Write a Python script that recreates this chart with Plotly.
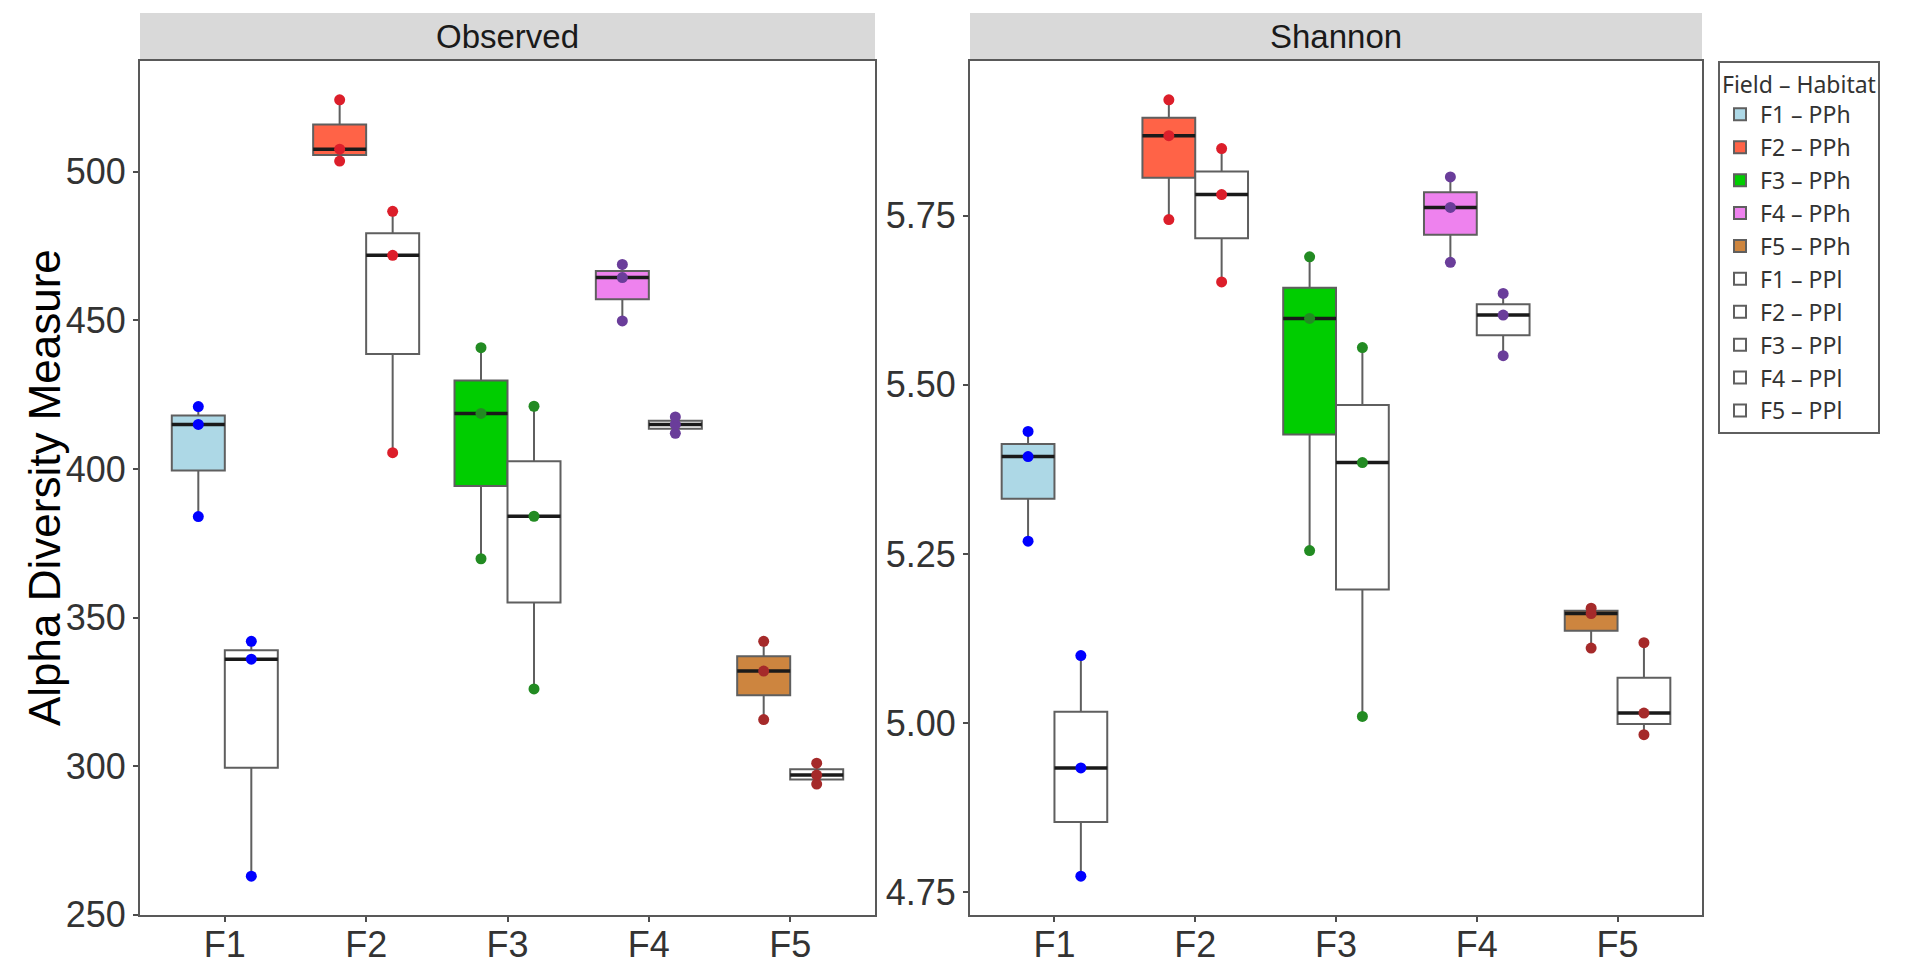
import numpy as np
import plotly.graph_objects as go

# ---------------- data ----------------
categories = ["F1", "F2", "F3", "F4", "F5"]
habitats = ["PPh", "PPl"]
metrics = ["Observed", "Shannon"]

observed_pph = [[384, 415, 421], [503.6, 507.6, 524.2], [369.8, 418.7, 440.8],
                [449.8, 464.4, 468.8], [315.7, 332, 342]]
observed_ppl = [[263, 336, 342], [405.5, 471.9, 486.7], [326, 384.1, 421.1],
                [412, 415, 417.5], [294, 297, 301]]
shannon_pph = [[5.269, 5.394, 5.431], [5.744, 5.868, 5.921], [5.255, 5.598, 5.689],
               [5.681, 5.762, 5.807], [5.111, 5.162, 5.170]]
shannon_ppl = [[4.774, 4.934, 5.100], [5.652, 5.781, 5.849], [5.010, 5.385, 5.555],
               [5.543, 5.603, 5.635], [4.983, 5.015, 5.119]]

y_title = "Alpha Diversity Measure"
legend_title = "Field – Habitat"

# ---------------- styles ----------------
fill_colors = {
    "PPh": ["#ADD8E6", "#FF6347", "#00CD00", "#EE82EE", "#CD853F"],
    "PPl": ["#FFFFFF"] * 5,
}
point_colors = ["#0000FF", "#DC1E2A", "#228B22", "#6A3D9A", "#A52A2A"]
box_line = "#5f5f5f"

data = {
    "Observed": {"PPh": observed_pph, "PPl": observed_ppl},
    "Shannon": {"PPh": shannon_pph, "PPl": shannon_ppl},
}

W, H = 1910, 969
ml, mr, mt, mb = 140, 208, 61, 54
pw = W - ml - mr
ph = H - mt - mb
domains = [[0, (875 - ml) / pw], [(970 - ml) / pw, 1.0]]

dodge = 0.75
bw = dodge / 2
offsets = {"PPh": -bw / 2, "PPl": bw / 2}
axes = [("x", "y"), ("x2", "y2")]

fig = go.Figure()

# boxes (legend traces); quartiles as in R (type 7)
for hab in habitats:
    for i, cat in enumerate(categories):
        for m_idx, metric in enumerate(metrics):
            vals = np.array(data[metric][hab][i], dtype=float)
            xpos = i + 1 + offsets[hab]
            xa, ya = axes[m_idx]
            q1, med, q3 = np.percentile(vals, [25, 50, 75])
            iqr = q3 - q1
            lo = vals[vals >= q1 - 1.5 * iqr].min()
            hi = vals[vals <= q3 + 1.5 * iqr].max()
            fig.add_trace(go.Box(
                x=[xpos], q1=[q1], median=[med], q3=[q3],
                lowerfence=[lo], upperfence=[hi], width=bw,
                name=f"{cat} – {hab}", legendgroup=f"{cat}-{hab}",
                showlegend=(m_idx == 0),
                fillcolor=fill_colors[hab][i],
                line=dict(color=box_line, width=2),
                marker=dict(color=point_colors[i]),
                boxpoints=False, whiskerwidth=0,
                xaxis=xa, yaxis=ya, hoverinfo="y",
            ))

# median lines
for hab in habitats:
    for i, cat in enumerate(categories):
        for m_idx, metric in enumerate(metrics):
            vals = data[metric][hab][i]
            xpos = i + 1 + offsets[hab]
            med = float(np.median(vals))
            xa, ya = axes[m_idx]
            fig.add_trace(go.Scatter(
                x=[xpos - bw / 2, xpos + bw / 2], y=[med, med], mode="lines",
                line=dict(color="#1a1a1a", width=3.5), showlegend=False,
                legendgroup=f"{cat}-{hab}", hoverinfo="skip",
                xaxis=xa, yaxis=ya,
            ))

# points
for hab in habitats:
    for i, cat in enumerate(categories):
        for m_idx, metric in enumerate(metrics):
            vals = data[metric][hab][i]
            xpos = i + 1 + offsets[hab]
            xa, ya = axes[m_idx]
            fig.add_trace(go.Scatter(
                x=[xpos] * len(vals), y=vals, mode="markers",
                marker=dict(color=point_colors[i], size=11),
                showlegend=False, legendgroup=f"{cat}-{hab}",
                name=f"{cat} – {hab}",
                xaxis=xa, yaxis=ya,
            ))


def expanded(metric):
    allv = [v for hab in habitats for grp in data[metric][hab] for v in grp]
    lo, hi = min(allv), max(allv)
    span = hi - lo
    return [lo - 0.05 * span, hi + 0.05 * span]


tick_font = dict(family="Liberation Sans, Arial, sans-serif", size=36, color="#333333")
axis_common = dict(showline=True, mirror=True, linecolor="#595959", linewidth=2,
                   ticks="outside", ticklen=5, tickwidth=1.5, tickcolor="#4d4d4d",
                   showgrid=False, zeroline=False, tickfont=tick_font, automargin=False)

fig.update_layout(
    width=W, height=H,
    margin=dict(l=ml, r=mr, t=mt, b=mb, autoexpand=False),
    paper_bgcolor="white", plot_bgcolor="white",
    boxmode="overlay",
    xaxis=dict(domain=domains[0], range=[0.4, len(categories) + 0.6], tickmode="array",
               tickvals=list(range(1, len(categories) + 1)), ticktext=categories,
               anchor="y", ticklabelstandoff=-8, **axis_common),
    xaxis2=dict(domain=domains[1], range=[0.4, len(categories) + 0.6], tickmode="array",
                tickvals=list(range(1, len(categories) + 1)), ticktext=categories,
                anchor="y2", ticklabelstandoff=-8, **axis_common),
    yaxis=dict(range=expanded("Observed"), tickmode="linear", tick0=250, dtick=50,
               anchor="x", **axis_common),
    yaxis2=dict(range=expanded("Shannon"), tickmode="linear", tick0=4.75, dtick=0.25,
                tickformat=".2f", anchor="x2", **axis_common),
    legend=dict(
        x=(1718 - ml) / pw, y=1.0, xanchor="left", yanchor="top",
        bordercolor="#5f5f5f", borderwidth=2, bgcolor="white",
        font=dict(family="Noto Sans, sans-serif", size=23, color="#333333"),
        title=dict(text=legend_title,
                   font=dict(family="Noto Sans, sans-serif", size=23, color="#333333")),
        traceorder="normal", itemsizing="constant",
    ),
    showlegend=True,
)

strip_h = 48 / ph
for m_idx, metric in enumerate(metrics):
    d = domains[m_idx]
    fig.add_shape(type="rect", xref="paper", yref="paper",
                  x0=d[0], x1=d[1], y0=1.0 + 1 / ph, y1=1.0 + strip_h,
                  fillcolor="#D9D9D9", line=dict(width=0), layer="below")
    fig.add_annotation(x=(d[0] + d[1]) / 2, y=1.0 + strip_h / 2, xref="paper", yref="paper",
                       text=metric, showarrow=False, xanchor="center", yanchor="middle",
                       font=dict(family="Liberation Sans, Arial, sans-serif", size=33,
                                 color="#1a1a1a"))

fig.add_annotation(x=0, y=0.5, xref="paper", yref="paper", xshift=-96,
                   text=y_title, textangle=-90, showarrow=False,
                   xanchor="center", yanchor="middle",
                   font=dict(family="Liberation Sans, Arial, sans-serif", size=44, color="#000000"))

fig.write_html("out.html")
